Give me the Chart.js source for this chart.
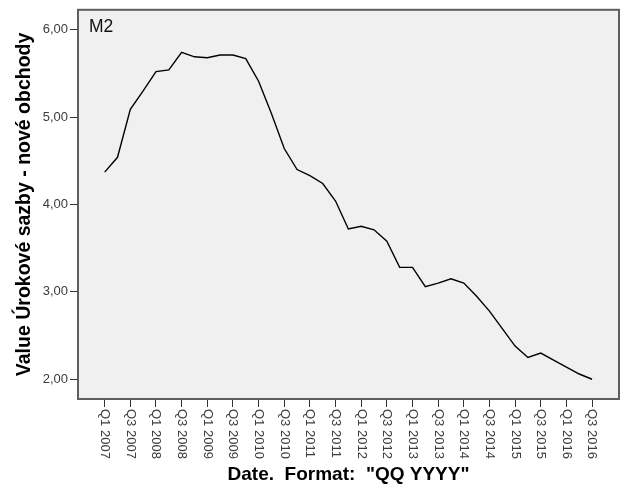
<!DOCTYPE html>
<html>
<head>
<meta charset="utf-8">
<script src="https://cdn.jsdelivr.net/npm/chart.js@4"></script>
<style>
  html, body { margin: 0; padding: 0; background: #ffffff; }
  #wrap { width: 626px; height: 501px; }
</style>
</head>
<body>
<div id="wrap"><canvas id="c" width="626" height="501"></canvas></div>
<script>
const quarters = [
  "Q1 2007","Q2 2007","Q3 2007","Q4 2007",
  "Q1 2008","Q2 2008","Q3 2008","Q4 2008",
  "Q1 2009","Q2 2009","Q3 2009","Q4 2009",
  "Q1 2010","Q2 2010","Q3 2010","Q4 2010",
  "Q1 2011","Q2 2011","Q3 2011","Q4 2011",
  "Q1 2012","Q2 2012","Q3 2012","Q4 2012",
  "Q1 2013","Q2 2013","Q3 2013","Q4 2013",
  "Q1 2014","Q2 2014","Q3 2014","Q4 2014",
  "Q1 2015","Q2 2015","Q3 2015","Q4 2015",
  "Q1 2016","Q2 2016","Q3 2016"
];
const values = [
  4.37, 4.54, 5.09, 5.30,
  5.52, 5.54, 5.74, 5.69,
  5.68, 5.71, 5.71, 5.67,
  5.41, 5.04, 4.64, 4.40,
  4.33, 4.24, 4.04, 3.72,
  3.75, 3.71, 3.58, 3.28,
  3.28, 3.06, 3.10, 3.15,
  3.10, 2.95, 2.78, 2.58,
  2.38, 2.25, 2.30, 2.22,
  2.14, 2.06, 2.00
];
const xTickLabels = [
  "Q1 2007","Q3 2007","Q1 2008","Q3 2008","Q1 2009","Q3 2009","Q1 2010",
  "Q3 2010","Q1 2011","Q3 2011","Q1 2012","Q3 2012","Q1 2013","Q3 2013",
  "Q1 2014","Q3 2014","Q1 2015","Q3 2015","Q1 2016","Q3 2016"
];
const yTickValues = [2, 3, 4, 5, 6];
const seriesLabel = "M2";
const yTitle = "Value Úrokové sazby - nové obchody";
const xTitle = "Date.  Format:  \"QQ YYYY\"";

const FONT = "Arial, 'Liberation Sans', sans-serif";

const points = values.map((v, i) => ({ x: i, y: v }));

const framePlugin = {
  id: 'frame',
  beforeDraw(chart) {
    const { ctx, chartArea: a } = chart;
    ctx.save();
    ctx.fillStyle = '#f0f0f0';
    ctx.fillRect(a.left, a.top, a.right - a.left, a.bottom - a.top);
    ctx.restore();
  },
  afterDraw(chart) {
    const { ctx, chartArea: a } = chart;
    const xs = chart.scales.x;
    ctx.save();
    ctx.strokeStyle = '#5e5e5e';
    ctx.lineWidth = 2;
    ctx.strokeRect(a.left, a.top, a.right - a.left, a.bottom - a.top);
    // series label inside plot
    ctx.fillStyle = '#111';
    ctx.font = "17.5px " + FONT;
    ctx.textAlign = 'left';
    ctx.textBaseline = 'alphabetic';
    ctx.fillText(seriesLabel, a.left + 11, a.top + 22);
    // rotated x tick labels (top-to-bottom)
    ctx.fillStyle = '#3c3c3c';
    ctx.font = "13px " + FONT;
    ctx.textAlign = 'left';
    ctx.textBaseline = 'middle';
    xs.ticks.forEach((t, k) => {
      const px = xs.getPixelForValue(t.value);
      ctx.save();
      ctx.translate(px, a.bottom + 10);
      ctx.rotate(Math.PI / 2);
      ctx.fillText(xTickLabels[k], 0, 0);
      ctx.restore();
    });
    ctx.restore();
  }
};

new Chart(document.getElementById('c'), {
  type: 'line',
  data: {
    datasets: [{
      label: seriesLabel,
      data: points,
      borderColor: '#000000',
      borderWidth: 1.4,
      pointRadius: 0,
      tension: 0,
      fill: false
    }]
  },
  options: {
    responsive: false,
    animation: false,
    devicePixelRatio: 1,
    layout: { padding: { left: 0, top: 4, right: 7, bottom: 0 } },
    plugins: { legend: { display: false }, tooltip: { enabled: false } },
    scales: {
      x: {
        type: 'linear',
        min: -2.08,
        max: 40.1,
        afterBuildTicks(scale) {
          scale.ticks = xTickLabels.map((l) => ({ value: quarters.indexOf(l) }));
        },
        afterFit(scale) { scale.height = 102; },
        grid: { drawOnChartArea: false, drawTicks: true, tickLength: 8, color: '#333', lineWidth: 1 },
        border: { display: false },
        ticks: { display: false },
        title: {
          display: true,
          text: xTitle,
          color: '#000',
          font: { family: FONT, size: 19, weight: 'bold' },
          padding: { top: 0, bottom: 15 }
        }
      },
      y: {
        type: 'linear',
        min: 1.774,
        max: 6.228,
        afterBuildTicks(scale) {
          scale.ticks = yTickValues.map(v => ({ value: v }));
        },
        afterFit(scale) { scale.width = 78; },
        grid: { drawOnChartArea: false, drawTicks: true, tickLength: 8, color: '#333', lineWidth: 1 },
        border: { display: false },
        ticks: {
          color: '#3c3c3c',
          padding: 2,
          font: { family: FONT, size: 13 },
          callback: (v) => Number(v).toFixed(2).replace('.', ',')
        },
        title: {
          display: true,
          text: yTitle,
          color: '#000',
          font: { family: FONT, size: 19.5, weight: 'bold' },
          padding: { top: 13, bottom: 0 }
        }
      }
    }
  },
  plugins: [framePlugin]
});
</script>
</body>
</html>
